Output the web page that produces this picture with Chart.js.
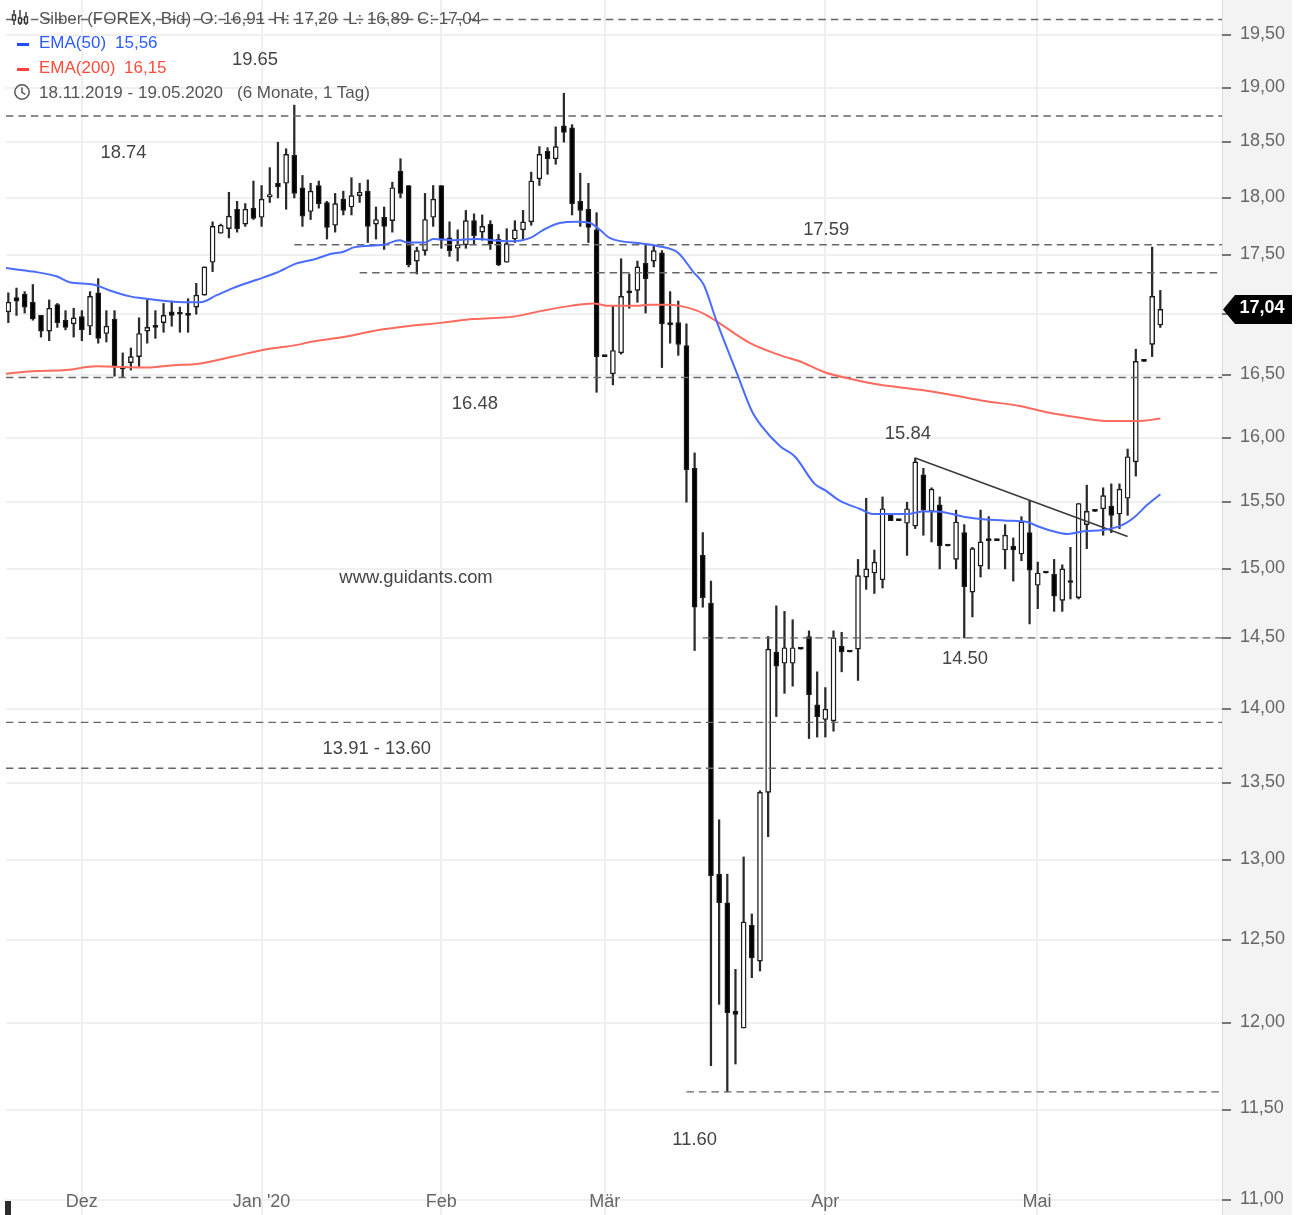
<!DOCTYPE html>
<html lang="de">
<head>
<meta charset="utf-8">
<title>Silber (FOREX, Bid)</title>
<script src="https://cdn.jsdelivr.net/npm/chart.js@4/dist/chart.umd.min.js"></script>
<style>
  html, body { margin: 0; padding: 0; background: #fff; }
  #wrap { position: relative; width: 1301px; height: 1215px; overflow: hidden; font-family: "Liberation Sans", Arial, sans-serif; filter: blur(0.45px); }
  canvas { display: block; }
  .row { position: absolute; left: 39px; font-size: 17px; line-height: 20px; color: #555; white-space: pre; }
  .row span { position: absolute; top: 0; }
  .blue { color: #2d5bff; }
  .red { color: #ff4b3e; }
  .mark { position: absolute; left: 17px; width: 12px; height: 3px; }
  #corner { position: absolute; left: 5px; top: 1201px; width: 6px; height: 14px; background: #2b2b30; }
  svg { position: absolute; }
</style>
</head>
<body>
<div id="wrap">
  <canvas id="chart" width="1301" height="1215"></canvas>
  <svg style="left:10px;top:9px" width="20" height="18" viewBox="0 0 20 18" fill="none" stroke="#333" stroke-width="1.4">
    <path d="M4 1V16M10 1V16M16 3V16"/>
    <rect x="2.5" y="6" width="3" height="5" fill="#fff"/>
    <rect x="8.5" y="9" width="3" height="5" fill="#fff"/>
    <rect x="14.5" y="8" width="3" height="6" fill="#fff"/>
  </svg>
  <div class="row" style="top:9px">Silber (FOREX, Bid)<span style="left:161px">O: 16,91</span><span style="left:234px">H: 17,20</span><span style="left:309px">L: 16,89</span><span style="left:378px">C: 17,04</span></div>
  <div class="mark" style="top:43px;background:#1f4dff"></div>
  <div class="row blue" style="top:33px">EMA(50)<span style="left:76px">15,56</span></div>
  <div class="mark" style="top:68px;background:#ff4136"></div>
  <div class="row red" style="top:58px">EMA(200)<span style="left:85px">16,15</span></div>
  <svg style="left:13px;top:83px" width="18" height="18" viewBox="0 0 18 18" fill="none" stroke="#555" stroke-width="1.5">
    <circle cx="9" cy="9" r="7.2"/>
    <path d="M9 4.5V9.4L12.3 11.4"/>
  </svg>
  <div class="row" style="top:83px">18.11.2019 - 19.05.2020<span style="left:198px">(6 Monate, 1 Tag)</span></div>
  <div id="corner"></div>
</div>
<script>
const opens = [17.02,17.14,17.17,17.10,16.99,16.86,17.08,16.95,16.92,16.98,16.90,17.18,16.84,16.96,16.56,16.60,16.65,16.86,16.90,16.93,17.02,17.01,17.00,17.06,17.16,17.44,17.69,17.73,17.90,17.77,17.91,17.83,18.01,18.13,18.13,18.38,18.09,17.88,18.11,17.96,17.76,17.99,17.92,18.02,18.06,17.77,17.83,17.80,18.24,18.11,17.45,17.54,17.83,18.11,17.65,17.56,17.59,17.80,17.70,17.77,17.64,17.44,17.64,17.72,17.79,18.17,18.42,18.35,18.65,18.63,17.97,17.90,17.72,16.66,16.51,16.68,17.19,17.20,17.43,17.45,17.52,16.93,16.93,16.74,15.76,15.10,14.75,12.91,12.73,12.07,11.97,12.59,12.37,13.44,14.40,14.32,14.32,14.43,14.51,14.03,13.93,13.92,14.44,14.41,14.42,14.94,14.97,14.92,15.40,15.37,15.34,15.32,15.71,15.43,15.48,15.18,15.07,15.27,14.83,15.02,15.22,15.22,15.14,15.17,15.11,15.27,14.88,14.98,14.96,14.77,14.91,14.79,15.33,15.44,15.45,15.47,15.41,15.53,15.81,16.62,16.75,16.91];
const highs = [17.18,17.22,17.19,17.25,16.99,17.12,17.09,17.03,17.05,17.03,17.19,17.30,17.03,17.03,16.68,16.72,16.97,17.12,17.03,17.09,17.11,17.06,17.13,17.26,17.40,17.79,17.77,18.05,17.97,17.95,18.15,18.11,18.27,18.50,18.44,18.84,18.20,18.13,18.15,17.97,18.04,18.06,18.18,18.13,18.16,17.92,17.92,18.14,18.35,18.11,17.57,18.04,18.11,18.11,17.79,17.72,17.89,17.86,17.85,17.80,17.68,17.73,17.80,17.89,18.23,18.46,18.45,18.64,18.95,18.66,18.22,18.13,17.87,16.66,17.07,17.47,17.34,17.45,17.59,17.58,17.54,17.19,17.11,16.92,15.88,15.27,14.91,13.26,12.91,12.32,13.02,12.66,13.45,14.51,14.73,14.69,14.63,14.43,14.55,14.26,14.15,14.55,14.54,14.41,15.07,15.53,15.14,15.54,15.40,15.37,15.50,15.84,15.76,15.61,15.54,15.18,15.44,15.33,15.16,15.44,15.39,15.22,15.33,15.23,15.39,15.51,15.05,14.98,15.07,15.03,15.16,15.49,15.63,15.44,15.61,15.64,15.64,15.91,16.71,16.62,17.57,17.20];
const lows = [16.93,16.99,17.01,16.95,16.81,16.78,16.89,16.87,16.81,16.78,16.83,16.76,16.77,16.49,16.48,16.54,16.57,16.76,16.80,16.85,16.90,16.85,16.85,17.00,17.16,17.36,17.69,17.65,17.70,17.75,17.81,17.75,17.96,18.00,17.90,18.00,17.75,17.81,17.91,17.64,17.70,17.85,17.85,17.96,17.61,17.64,17.55,17.70,18.00,17.40,17.34,17.50,17.75,17.56,17.49,17.45,17.56,17.59,17.63,17.55,17.41,17.44,17.61,17.64,17.76,18.11,18.21,18.30,18.50,17.85,17.75,17.61,16.36,16.65,16.42,16.67,17.05,17.10,17.01,17.40,16.56,16.76,16.66,15.50,14.41,14.72,11.75,12.11,11.60,11.76,11.97,12.27,12.31,13.15,13.95,14.11,14.16,14.42,13.80,13.81,13.81,13.85,14.26,14.40,14.20,14.85,14.82,14.86,15.36,15.36,15.10,15.30,15.25,15.20,15.00,15.17,15.00,14.50,14.65,14.94,15.00,15.21,15.00,14.91,15.06,14.60,14.71,14.97,14.69,14.69,14.78,14.78,15.15,15.43,15.25,15.27,15.30,15.40,15.70,16.61,16.65,16.89];
const closes = [17.10,17.11,17.06,16.96,16.86,17.05,16.93,16.89,16.97,16.87,17.15,16.80,16.90,16.57,16.55,16.65,16.84,16.89,16.89,16.99,16.99,17.00,16.99,17.16,17.40,17.75,17.76,17.84,17.73,17.90,17.82,17.99,18.03,18.10,18.39,18.04,17.84,18.06,17.95,17.74,17.95,17.89,18.02,18.05,17.75,17.81,17.75,18.09,18.04,17.42,17.54,17.81,17.99,17.63,17.54,17.59,17.80,17.67,17.75,17.60,17.42,17.60,17.72,17.79,18.15,18.39,18.35,18.46,18.59,17.95,17.89,17.74,16.65,16.65,16.70,17.15,17.18,17.40,17.30,17.54,16.92,16.91,16.75,15.75,14.72,14.79,12.90,12.73,12.06,12.05,12.61,12.39,13.44,14.42,14.30,14.43,14.43,14.42,14.10,13.95,14.00,14.50,14.40,14.40,14.95,15.00,15.05,15.45,15.36,15.36,15.45,15.81,15.44,15.60,15.17,15.17,15.35,14.87,15.15,15.20,15.21,15.21,15.25,15.14,15.35,14.99,14.97,14.97,14.80,15.00,14.90,15.49,15.43,15.43,15.55,15.40,15.60,15.85,16.61,16.61,17.15,17.04];

const ema50Pos = [-0.3,3,5.9,7.5,10.4,12.4,14.9,16.9,19.4,21.8,23.5,25.5,27.5,30.4,32.8,35.3,37.7,39.4,41,42.4,45.9,47.9,48.8,51,52,54.5,57.3,61.4,63.9,65.5,67.5,69.6,71.2,72.4,73.6,77.7,79.4,82,83.8,85.1,86.7,89.2,91,92.2,94.5,96.3,98.7,100,101.8,104.2,105.8,110,112,113.7,116.9,119.3,122.2,124.7,125.9,127.9,129.7,131.6,134,136.1,137.9,139.4,141];
const ema50 = [17.39,17.36,17.32,17.27,17.25,17.20,17.15,17.13,17.11,17.10,17.10,17.16,17.22,17.29,17.35,17.43,17.47,17.51,17.53,17.57,17.59,17.63,17.61,17.61,17.64,17.63,17.64,17.62,17.65,17.72,17.78,17.79,17.78,17.72,17.65,17.60,17.58,17.52,17.36,17.25,16.94,16.51,16.21,16.09,15.93,15.85,15.64,15.59,15.51,15.45,15.41,15.41,15.43,15.43,15.39,15.37,15.36,15.35,15.32,15.28,15.26,15.28,15.29,15.32,15.39,15.48,15.56];
const ema200Pos = [-0.3,3,7.1,10.8,16.9,20.2,23.1,27.5,31.6,35.7,36.9,41,45.5,48.8,53.2,56.9,61.8,65.4,68.8,71.6,73.6,76.9,78.5,80.6,82.2,84.3,85.5,86.7,90.8,94.5,96.9,100,103,106.7,111.6,115.3,119.5,123.8,127.1,130.8,134.8,138.1,141];
const ema200 = [16.51,16.53,16.54,16.57,16.56,16.58,16.59,16.65,16.71,16.75,16.77,16.81,16.87,16.90,16.93,16.96,16.98,17.03,17.07,17.09,17.07,17.07,17.08,17.08,17.07,17.03,16.99,16.94,16.76,16.66,16.61,16.52,16.47,16.42,16.38,16.34,16.29,16.25,16.20,16.16,16.13,16.13,16.15];

const levels = [19.65,18.74,17.59,17.35,16.48,14.50,13.91,13.60,11.60];
const levelStart = [-0.3,-0.3,35,43,-0.3,85,-0.3,-0.3,83];
const trendPos = [111,137];
const trendValues = [15.84,15.24];

const yTicks = [11,11.5,12,12.5,13,13.5,14,14.5,15,15.5,16,16.5,17,17.5,18,18.5,19,19.5];
const monthPos = [9,31,53,73,100,125.9];
const monthLabels = ['Dez',"Jan '20",'Feb','Mär','Apr','Mai'];

const noteTexts = ['19.65','18.74','17.59','16.48','15.84','www.guidants.com','14.50','13.91 - 13.60','11.60'];
const notePos = [30.2,14.1,100.1,57.1,110.1,49.9,117.1,45.1,84];
const noteValues = [19.26,18.40,17.72,16.27,16.03,14.93,14.35,13.73,11.33];

const FONT = '"Liberation Sans", Arial, sans-serif';
const lastClose = closes[closes.length - 1];

const bodies = opens.map((o, i) => ({ x: i, y: [o, closes[i]] }));
const wicks = lows.map((l, i) => ({ x: i, y: [l, highs[i]] }));

const levelSets = levels.map((v, i) => ({
  type: 'line',
  data: [{ x: levelStart[i], y: v }, { x: 148.6, y: v }],
  borderColor: '#666',
  borderWidth: 1.4,
  borderDash: [7.5, 5],
  pointRadius: 0,
  order: 1,
}));

const panelPlugin = {
  id: 'panel',
  beforeDraw(chart) {
    const { ctx, chartArea } = chart;
    ctx.save();
    ctx.fillStyle = '#f3f3f3';
    ctx.fillRect(chartArea.right, 0, 70, chart.height);
    ctx.fillStyle = '#dedede';
    ctx.fillRect(chartArea.right, 0, 1, chart.height);
    ctx.restore();
  },
  afterDraw(chart) {
    const { ctx, chartArea, scales } = chart;
    ctx.save();
    ctx.font = '18.4px ' + FONT;
    ctx.fillStyle = '#444';
    ctx.textAlign = 'center';
    ctx.textBaseline = 'middle';
    noteTexts.forEach((t, i) => {
      ctx.fillText(t, scales.x.getPixelForValue(notePos[i]), scales.y.getPixelForValue(noteValues[i]));
    });

    // last price tag
    const y = scales.y.getPixelForValue(lastClose);
    const left = chartArea.right + 1;
    ctx.fillStyle = '#000';
    ctx.beginPath();
    ctx.moveTo(left, y);
    ctx.lineTo(left + 12, y - 14.5);
    ctx.lineTo(left + 69, y - 14.5);
    ctx.lineTo(left + 69, y + 14.5);
    ctx.lineTo(left + 12, y + 14.5);
    ctx.closePath();
    ctx.fill();
    ctx.fillStyle = '#fff';
    ctx.font = 'bold 18px ' + FONT;
    ctx.fillText(lastClose.toFixed(2).replace('.', ','), left + 39, y - 1);
    ctx.restore();
  },
};

new Chart(document.getElementById('chart'), {
  type: 'bar',
  data: {
    datasets: [
      {
        type: 'line',
        data: ema50Pos.map((p, i) => ({ x: p, y: ema50[i] })),
        borderColor: '#4a6cff',
        borderWidth: 2,
        cubicInterpolationMode: 'monotone',
        pointRadius: 0,
        order: 0,
      },
      {
        type: 'line',
        data: ema200Pos.map((p, i) => ({ x: p, y: ema200[i] })),
        borderColor: '#ff6a5e',
        borderWidth: 2,
        cubicInterpolationMode: 'monotone',
        pointRadius: 0,
        order: 0,
      },
      {
        type: 'line',
        data: trendPos.map((p, i) => ({ x: p, y: trendValues[i] })),
        borderColor: '#3a3a3a',
        borderWidth: 1.6,
        pointRadius: 0,
        order: 0,
      },
      ...levelSets,
      {
        data: bodies,
        grouped: false,
        barThickness: 5,
        minBarLength: 2,
        borderSkipped: false,
        borderWidth: 1.4,
        borderColor: '#1c1c1c',
        backgroundColor: opens.map((o, i) => (closes[i] >= o ? '#fff' : '#000')),
        order: 2,
      },
      {
        data: wicks,
        grouped: false,
        barThickness: 1.6,
        borderWidth: 0,
        backgroundColor: '#2a2a2a',
        order: 3,
      },
    ],
  },
  options: {
    responsive: false,
    animation: false,
    events: [],
    layout: { padding: { left: 6 } },
    plugins: { legend: { display: false }, tooltip: { enabled: false } },
    scales: {
      x: {
        type: 'linear',
        min: -0.285,
        max: 148.55,
        offset: false,
        afterFit: (s) => { s.height = 0; s.paddingLeft = 0; s.paddingRight = 0; },
        afterBuildTicks: (s) => { s.ticks = monthPos.map((v) => ({ value: v })); },
        grid: { color: '#efefef', lineWidth: 2, drawTicks: false, offset: false },
        border: { display: false },
        ticks: {
          autoSkip: false,
          maxRotation: 0,
          mirror: true,
          padding: 2,
          color: '#666',
          font: { family: FONT, size: 18 },
          callback: (v) => monthLabels[monthPos.indexOf(v)],
        },
      },
      y: {
        type: 'logarithmic',
        position: 'right',
        min: 10.919,
        max: 19.839,
        afterFit: (s) => { s.width = 79; s.paddingTop = 0; s.paddingBottom = 0; },
        afterBuildTicks: (s) => { s.ticks = yTicks.map((v) => ({ value: v })); },
        grid: { color: '#f0f0f0', lineWidth: 2, tickColor: '#777', tickLength: 9, tickWidth: 2 },
        border: { display: false },
        ticks: {
          autoSkip: false,
          padding: 9,
          labelOffset: -1,
          color: '#666',
          font: { family: FONT, size: 18 },
          callback: (v) => v.toFixed(2).replace('.', ','),
        },
      },
    },
  },
  plugins: [panelPlugin],
});
</script>
</body>
</html>
